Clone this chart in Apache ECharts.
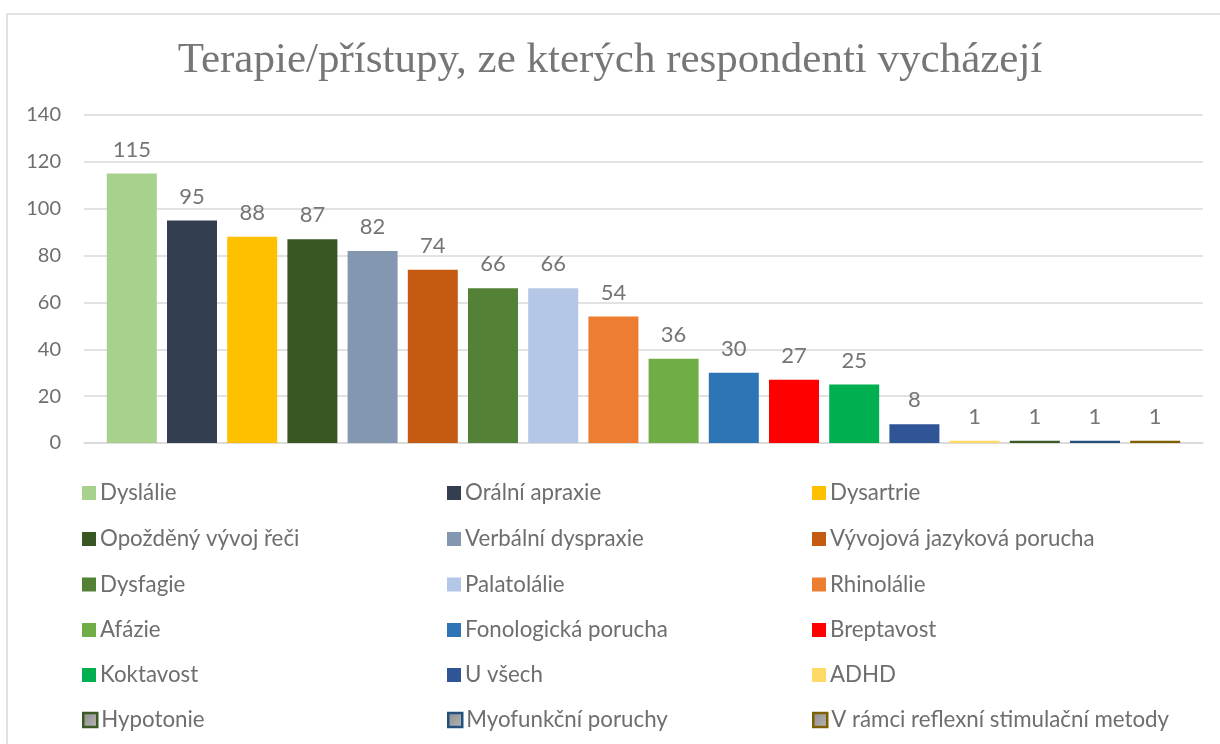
<!DOCTYPE html>
<html>
<head>
<meta charset="utf-8">
<script src="https://cdn.jsdelivr.net/npm/echarts@6/dist/echarts.min.js"></script>
<style>
html,body{margin:0;padding:0;background:#fff;}
#chart{width:1220px;height:744px;}
</style>
</head>
<body>
<div id="chart"></div>
<script>
const titleText = 'Terapie/přístupy, ze kterých respondenti vycházejí';
const names = ['Dyslálie','Orální apraxie','Dysartrie','Opožděný vývoj řeči','Verbální dyspraxie','Vývojová jazyková porucha','Dysfagie','Palatolálie','Rhinolálie','Afázie','Fonologická porucha','Breptavost','Koktavost','U všech','ADHD','Hypotonie','Myofunkční poruchy','V rámci reflexní stimulační metody'];
const values = [115,95,88,87,82,74,66,66,54,36,30,27,25,8,1,1,1,1];
const colors = ['#A9D18E','#333F50','#FFC000','#385723','#8497B0','#C55A11','#538135','#B4C7E7','#ED7D31','#70AD47','#2E75B6','#FF0000','#00B050','#2F5597','#FFD966','#3B5A25','#24507C','#7F6000'];
const outlinedLegend = [15,16,17];
const yTicks = {min:0,max:140,interval:20};

const FONT = 'Lato';
const series = names.map((n,i)=>({
  name:n, type:'bar', data:[values[i]],
  barWidth:50, barGap:'20.4%',
  itemStyle:{color:colors[i]},
  label:{show:true,position:'top',distance:13,color:'#757575',fontSize:22,fontFamily:FONT},
  emphasis:{disabled:true}
}));

function legendItem(i){
  if(outlinedLegend.includes(i)){
    return {name:names[i], itemStyle:{color:{type:'linear',x:0,y:0,x2:1,y2:1,colorStops:[{offset:0,color:'#8c8c8c'},{offset:1,color:'#b8b8b8'}]},borderColor:colors[i],borderWidth:2.5}};
  }
  return {name:names[i]};
}
const colLeft=[82,447,812];
const rowCenter=[493,539,584.5,630,675,720];
const legends=names.map((n,i)=>({
  orient:'horizontal', left:colLeft[i%3], top:rowCenter[Math.floor(i/3)]-11,
  padding:0,
  icon:'rect', itemWidth:14, itemHeight:14,
  textStyle:{color:'#6e6e6e',fontSize:22.3,fontFamily:FONT,padding:[0,0,0,-1]},
  selectedMode:false,
  data:[legendItem(i)]
}));

const chart = echarts.init(document.getElementById('chart'),null,{renderer:'canvas'});
chart.setOption({
  animation:false,
  backgroundColor:'#fff',
  title:{text:titleText,left:'center',top:34,textStyle:{fontFamily:'Liberation Serif',fontSize:43,fontWeight:'normal',color:'#767676'}},
  graphic:[{type:'rect',shape:{x:7,y:14,width:1400,height:900},style:{fill:'none',stroke:'#d9d9d9',lineWidth:1.5},silent:true,z:-1}],
  grid:{left:84,right:17,top:115,bottom:301},
  xAxis:{type:'category',data:[''],axisLine:{show:true,lineStyle:{color:'#d9d9d9',width:1.5}},axisTick:{show:false},axisLabel:{show:false}},
  yAxis:{type:'value',min:yTicks.min,max:yTicks.max,interval:yTicks.interval,
    axisLine:{show:false},axisTick:{show:false},
    axisLabel:{color:'#6e6e6e',fontSize:20,fontFamily:FONT,margin:23},
    splitLine:{lineStyle:{color:'#d9d9d9',width:1.5}}},
  legend:legends,
  series:series
});
</script>
</body>
</html>
